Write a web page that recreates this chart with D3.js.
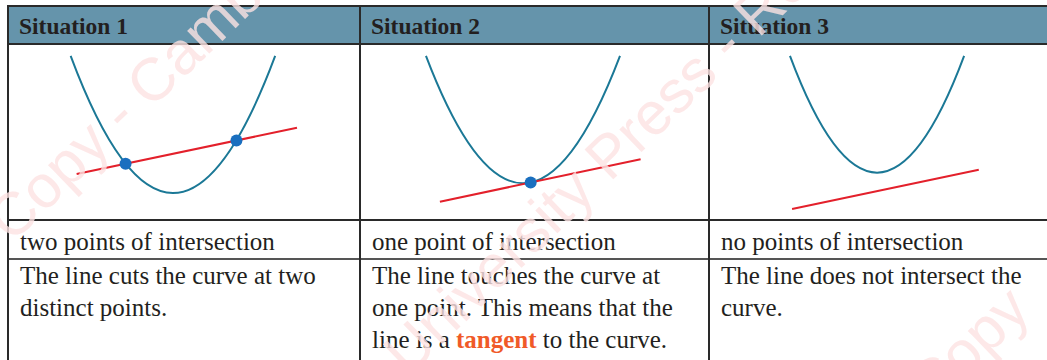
<!DOCTYPE html>
<html>
<head>
<meta charset="utf-8">
<script src="https://cdn.jsdelivr.net/npm/d3@7"></script>
<style>
  body { margin: 0; background: #fff; }
  svg { display: block; }
  .serif { font-family: "Liberation Serif", "Times New Roman", Times, serif; }
</style>
</head>
<body>
<div id="chart"></div>
<script>
// table content
var situations = ["Situation 1", "Situation 2", "Situation 3"];
var summaries = ["two points of intersection", "one point of intersection", "no points of intersection"];
var descriptions = [
    ["The line cuts the curve at two", "distinct points."],
    ["The line touches the curve at", "one point. This means that the", "line is a tangent to the curve."],
    ["The line does not intersect the", "curve."]
];
var keyTerm = "tangent";

// diagram values, each panel in its own 0-100 units (x across the cell, y up the cell)
var curveEnds = [[17.8, 75.9], [18.9, 74.5], [23.2, 73.1]];   // x of the two top ends
var curveTop = [93.2, 93.2, 93.2];                            // y of the top ends
var vertices = [[46.85, 15.3], [46.7, 20.85], [48.15, 26.9]];
var lineStarts = [[19.5, 26.1], [22.9, 10.4], [23.8, 6.3]];
var lineEnds = [[82.1, 52.4], [80.4, 34.5], [77.3, 28.6]];
var meetPoints = [[[33.4, 32.0], [64.9, 45.2]], [[48.9, 21.3]], []];

var watermark = "Copy - Cambridge University Press - Review Copy";

var W = 1047, H = 360;
var colX = [8, 360, 709], colW = [352, 349, 349];
var rowTop = 6, headBottom = 44, diagBottom = 220, sumBottom = 259;

var svg = d3.select("#chart").append("svg")
    .attr("width", W)
    .attr("height", H);

svg.append("rect").attr("width", W).attr("height", H).attr("fill", "#fff");

// header band
svg.append("rect")
    .attr("x", colX[0]).attr("y", rowTop)
    .attr("width", W - colX[0]).attr("height", headBottom - rowTop)
    .attr("fill", "#6594ab");

situations.forEach(function (s, i) {
    var x = d3.scaleLinear().domain([0, 100]).range([colX[i], colX[i] + colW[i]]);
    var y = d3.scaleLinear().domain([0, 100]).range([diagBottom, headBottom]);
    var g = svg.append("g");

    // parabola as a quadratic bezier through the two ends and the vertex
    var p0 = [x(curveEnds[i][0]), y(curveTop[i])];
    var p2 = [x(curveEnds[i][1]), y(curveTop[i])];
    var v = [x(vertices[i][0]), y(vertices[i][1])];
    var c = [2 * v[0] - (p0[0] + p2[0]) / 2, 2 * v[1] - (p0[1] + p2[1]) / 2];
    var p = d3.path();
    p.moveTo(p0[0], p0[1]);
    p.quadraticCurveTo(c[0], c[1], p2[0], p2[1]);
    g.append("path")
        .attr("d", p.toString())
        .attr("fill", "none")
        .attr("stroke", "#1b7896")
        .attr("stroke-width", 2);

    g.append("line")
        .attr("x1", x(lineStarts[i][0])).attr("y1", y(lineStarts[i][1]))
        .attr("x2", x(lineEnds[i][0])).attr("y2", y(lineEnds[i][1]))
        .attr("stroke", "#e3202b")
        .attr("stroke-width", 2);

    g.selectAll("circle")
        .data(meetPoints[i])
        .enter().append("circle")
        .attr("cx", function (d) { return x(d[0]); })
        .attr("cy", function (d) { return y(d[1]); })
        .attr("r", 6)
        .attr("fill", "#1a6fbf");

    // header text
    svg.append("text")
        .attr("class", "serif")
        .attr("x", colX[i] + 11).attr("y", 34)
        .style("font-size", "23.5px")
        .style("font-weight", "bold")
        .attr("fill", "#231f20")
        .text(s);

    svg.append("text")
        .attr("class", "serif")
        .attr("x", colX[i] + 12).attr("y", 249.5)
        .style("font-size", "25px")
        .attr("fill", "#231f20")
        .text(summaries[i]);

    descriptions[i].forEach(function (line, k) {
        var t = svg.append("text")
            .attr("class", "serif")
            .attr("x", colX[i] + 12).attr("y", 283.5 + k * 32)
            .style("font-size", "25px")
            .attr("fill", "#231f20");
        var parts = line.split(keyTerm);
        parts.forEach(function (part, j) {
            if (j > 0) {
                t.append("tspan")
                    .attr("fill", "#f05a28")
                    .style("font-weight", "bold")
                    .text(keyTerm);
            }
            t.append("tspan").text(part);
        });
    });
});

// grid lines
var stroke = "#2a2a2a";
[rowTop, headBottom, diagBottom, sumBottom].forEach(function (yy, k) {
    svg.append("line")
        .attr("x1", colX[0] - 1).attr("x2", W)
        .attr("y1", yy).attr("y2", yy)
        .attr("stroke", k == 3 ? "#555" : stroke)
        .attr("stroke-width", 2);
});
colX.forEach(function (xx) {
    svg.append("line")
        .attr("x1", xx).attr("x2", xx)
        .attr("y1", rowTop).attr("y2", H)
        .attr("stroke", stroke)
        .attr("stroke-width", 2);
});

// faint watermark across the page
[[12, 244], [46, 727], [66, 1246]].forEach(function (pos) {
    svg.append("text")
        .attr("transform", "translate(" + pos[0] + "," + pos[1] + ") rotate(-44)")
        .style("font-family", "'Liberation Sans', Arial, sans-serif")
        .style("font-size", "60px")
        .attr("fill", "#fde3e3")
        .attr("opacity", 0.8)
        .text(watermark);
});
</script>
</body>
</html>
